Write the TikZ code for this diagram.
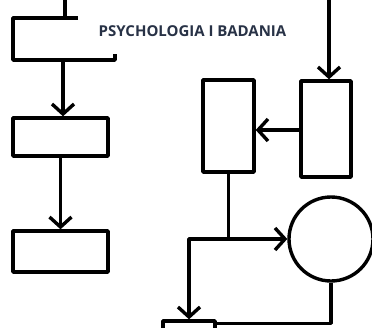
\documentclass[tikz,border=0pt]{standalone}
\usepackage{fontspec}
\newfontfamily\titlefont{Open Sans}
\usepackage{tikz}
\usetikzlibrary{arrows.meta,calc,positioning}
\definecolor{titleblue}{RGB}{40,50,70}
\begin{document}
\begin{tikzpicture}[x=1pt,y=-1pt,>={Straight Barb[length=10pt,width=22pt]},
    line width=3.4pt,line join=round,
    box/.style={draw,rectangle,inner sep=0pt,line width=3.4pt}]
    \useasboundingbox (0,0) rectangle (372,327);
    \clip (0,0) rectangle (372,327);
    % title
    \node (title) at (192.5,31) [text=titleblue,font=\titlefont\bfseries\fontsize{15}{17}\selectfont]{PSYCHOLOGIA I BADANIA};
    % left column
    \coordinate (in1) at (65,0);
    \coordinate (tl) at (65,18);
    \coordinate (tb) at (63,60);
    \draw (78,18) -- (13,18) -- (13,60) -- (115,60) -- (115,54);
    \node (b2) at (60.5,137) [box,minimum width=95pt,minimum height=38pt]{};
    \node (b3) at (60.5,251.5) [box,minimum width=95pt,minimum height=41pt]{};
    % right part
    \coordinate (in2) at (329,0);
    \node (rb) at (326,129) [box,minimum width=50pt,minimum height=96pt]{};
    \node (mb) at (228.5,126) [box,minimum width=51pt,minimum height=92pt]{};
    \node (c) at (331,239) [draw,circle,minimum size=84pt,inner sep=0pt]{};
    \node (bb) at (189,333) [box,minimum width=52pt,minimum height=24pt]{};
    \coordinate (j) at (mb.south |- c.west);
    % edges
    \draw (in1) -- (tl);
    \draw[->] (tb) -- (b2.north -| tb);
    \draw[->] (b2) -- (b3);
    \draw[->] (in2) -- (rb.north -| in2);
    \draw[->] ([yshift=-1pt]rb.west) -- ([yshift=-1pt]mb.east |- rb.west);
    \draw (mb) -- (j);
    \draw[->] (j) -- (c);
    \draw[->] (j) -- (j -| bb) -- (bb);
    \draw (c) |- ([yshift=-4pt]bb.north east);
  \end{tikzpicture}
\end{document}
